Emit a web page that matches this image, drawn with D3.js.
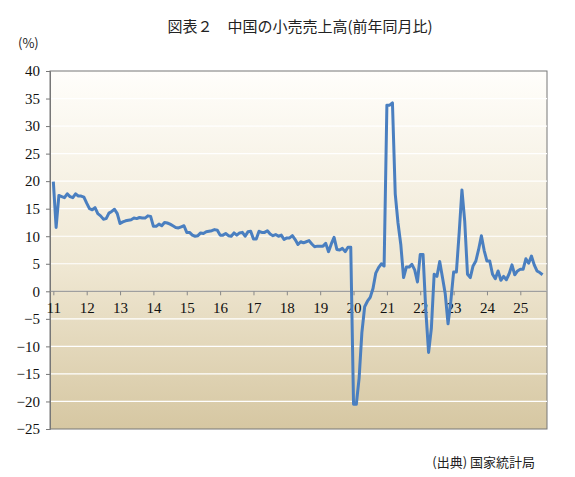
<!DOCTYPE html>
<html><head><meta charset="utf-8">
<script src="https://cdn.jsdelivr.net/npm/d3@7"></script>
<style>body{margin:0;background:#fff}</style>
</head><body>
<svg id="c" width="575" height="477"></svg>
<script>
const startYear = 2011;
const retailYoY = [
  19.9, 11.6, 17.4, 17.2, 17.0, 17.7, 17.2, 17.0, 17.7, 17.3, 17.3, 17.1,
  16.0, 15.0, 14.8, 15.2, 14.1, 13.7, 13.1, 13.2, 14.2, 14.5, 14.9, 14.1,
  12.3, 12.6, 12.8, 12.9, 13.0, 13.3, 13.2, 13.4, 13.3, 13.3, 13.7, 13.6,
  11.8, 11.8, 12.2, 11.9, 12.5, 12.4, 12.2, 11.9, 11.6, 11.5, 11.7, 11.9,
  10.7, 10.7, 10.2, 10.0, 10.1, 10.6, 10.5, 10.8, 10.9, 11.0, 11.2, 11.1,
  10.2, 10.2, 10.5, 10.1, 10.0, 10.6, 10.2, 10.6, 10.7, 10.0, 10.8, 10.9,
  9.5, 9.5, 10.9, 10.7, 10.7, 11.0, 10.4, 10.1, 10.3, 10.0, 10.2, 9.4,
  9.7, 9.7, 10.1, 9.4, 8.5, 9.0, 8.8, 9.0, 9.2, 8.6, 8.1, 8.2,
  8.2, 8.2, 8.7, 7.2, 8.6, 9.8, 7.6, 7.5, 7.8, 7.2, 8.0, 8.0,
  -20.5, -20.5, -15.8, -7.5, -2.8, -1.8, -1.1, 0.5, 3.3, 4.3, 5.0, 4.6,
  33.8, 33.8, 34.2, 17.7, 12.4, 8.5, 2.5, 4.4, 4.4, 4.9, 3.9, 1.7,
  6.7, 6.7, -3.5, -11.1, -6.7, 3.1, 2.7, 5.4, 2.5, -0.5, -5.9, -1.8,
  3.5, 3.5, 10.6, 18.4, 12.7, 3.1, 2.5, 4.6, 5.5, 7.6, 10.1, 7.4,
  5.5, 5.5, 3.1, 2.3, 3.7, 2.0, 2.7, 2.1, 3.2, 4.8, 3.0, 3.7,
  4.0, 4.0, 5.9, 5.1, 6.4, 4.8, 3.7, 3.4, 3.0
];
const yearLabels = ["11","12","13","14","15","16","17","18","19","20","21","22","23","24","25"];
const yTicks = [40,35,30,25,20,15,10,5,0,-5,-10,-15,-20,-25];

const svg = d3.select("#c");
const L = 50, R = 547, T = 71, B = 429;
const x = d3.scaleLinear().domain([-0.1, 14.8]).range([L, R]);
const y = d3.scaleLinear().domain([-25, 40]).range([B, T]);

const grad = svg.append("defs").append("linearGradient")
  .attr("id", "bg").attr("x1", 0).attr("y1", 0).attr("x2", 0).attr("y2", 1);
grad.append("stop").attr("offset", "0%").attr("stop-color", "#fffefb");
grad.append("stop").attr("offset", "55%").attr("stop-color", "#efe7d2");
grad.append("stop").attr("offset", "100%").attr("stop-color", "#d6c7a2");
svg.append("rect").attr("x", L).attr("y", T).attr("width", R - L).attr("height", B - T)
  .attr("fill", "url(#bg)").attr("stroke", "#777").attr("stroke-width", 1);

svg.append("g").selectAll("line").data(yTicks.filter(d => d > -25 && d < 40)).join("line")
  .attr("x1", L).attr("x2", R).attr("y1", d => y(d)).attr("y2", d => y(d))
  .attr("stroke", "#fff").attr("stroke-width", 1.2);

svg.append("g").attr("transform", `translate(${L},0)`)
  .call(d3.axisLeft(y).tickValues(yTicks).tickSize(4).tickPadding(6))
  .call(g => g.select(".domain").attr("stroke", "#777"))
  .call(g => g.selectAll("line").attr("stroke", "#777"))
  .call(g => g.selectAll("text").attr("font-family", "Liberation Serif").attr("font-size", 15).attr("fill", "#111"));

svg.append("g").attr("transform", `translate(0,${y(0)})`)
  .call(d3.axisBottom(x).tickValues(d3.range(yearLabels.length)).tickFormat(i => yearLabels[i]).tickSize(4).tickPadding(7))
  .call(g => g.select(".domain").attr("d", `M${L},0H${R}`).attr("stroke", "#888"))
  .call(g => g.selectAll("line").attr("stroke", "#888"))
  .call(g => g.selectAll("text").attr("font-family", "Liberation Serif").attr("font-size", 15).attr("fill", "#111"));

const line = d3.line().x((d, i) => x(i / 12)).y(d => y(d));
svg.append("path").datum(retailYoY).attr("d", line)
  .attr("fill", "none").attr("stroke", "#4a7fc0").attr("stroke-width", 3).attr("stroke-linejoin", "round");

svg.append("text").attr("x", 300).attr("y", 32).attr("text-anchor", "middle")
  .attr("font-family", "Noto Sans CJK JP").attr("font-size", 15).attr("fill", "#222")
  .text("図表２　中国の小売売上高(前年同月比)");
svg.append("text").attr("x", 18).attr("y", 48)
  .attr("font-family", "Noto Sans CJK JP").attr("font-size", 13).attr("fill", "#222").text("(%)");
svg.append("text").attr("x", 535).attr("y", 467).attr("text-anchor", "end")
  .attr("font-family", "Noto Sans CJK JP").attr("font-size", 13).attr("fill", "#222").text("(出典) 国家統計局");
</script>
</body></html>
